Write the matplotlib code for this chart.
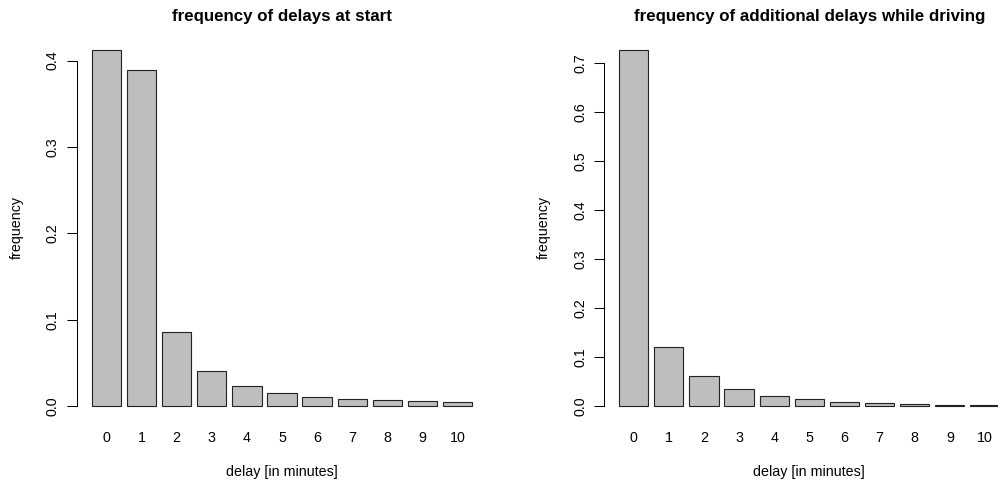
import numpy as np
import matplotlib.pyplot as plt

plt.rcParams['font.family'] = ['Liberation Sans', 'DejaVu Sans']

delays = [str(i) for i in range(11)]
freq_start = [0.4124, 0.389, 0.0853, 0.0405, 0.0235, 0.015, 0.0108, 0.0085, 0.0066, 0.0054, 0.0043]
freq_driving = [0.7273, 0.1205, 0.062, 0.0341, 0.0204, 0.0136, 0.0088, 0.0055, 0.004, 0.0027, 0.002]

titles = ["frequency of delays at start", "frequency of additional delays while driving"]
yticks_start = [0.0, 0.1, 0.2, 0.3, 0.4]
yticks_driving = [0.0, 0.1, 0.2, 0.3, 0.4, 0.5, 0.6, 0.7]

W, H = 998, 482
fig = plt.figure(figsize=(W / 100, H / 100), dpi=100)


def barplot(left_px, values, yticks, title):
    # mimic R's barplot: width 1, space 0.2, 4% axis expansion
    ax = fig.add_axes([left_px / W, (H - 420.2) / H, 411 / W, 384.5 / H])
    n = len(values)
    centers = 0.7 + 1.2 * np.arange(n)
    ax.bar(centers, values, width=1.0, color='#bebebe', edgecolor='#222222', linewidth=0.8)
    ymax = max(values)
    ax.set_ylim(-0.04 * ymax, 1.04 * ymax)
    xl, xr = 0.2, 1.2 * n
    ax.set_xlim(xl - 0.04 * (xr - xl), xr + 0.04 * (xr - xl))

    for s in ['top', 'right', 'bottom']:
        ax.spines[s].set_visible(False)
    ax.spines['left'].set_bounds(yticks[0], yticks[-1])
    ax.spines['left'].set_linewidth(0.75)

    ax.set_yticks(yticks)
    ax.set_yticklabels(['%.1f' % t for t in yticks])
    ax.tick_params(axis='y', length=7.2, width=0.75, labelrotation=90, pad=9.8, labelsize=10.3)
    plt.setp(ax.get_yticklabels(), ha='center', va='center')

    ax.set_xticks(centers)
    ax.set_xticklabels(delays)
    ax.tick_params(axis='x', length=0, pad=13, labelsize=10.3)
    plt.setp(ax.get_xticklabels(), va='center')

    ax.set_xlabel('delay [in minutes]', fontsize=10.3, va='center')
    ax.xaxis.set_label_coords(0.5, -51.5 / 384.5)
    ax.set_ylabel('frequency', fontsize=10.3, va='center')
    ax.yaxis.set_label_coords(-60 / 411, 0.5)
    ax.set_title(title, fontsize=12.2, fontweight='bold', pad=10.8)
    return ax


barplot(76.5, freq_start, yticks_start, titles[0])
barplot(603.8, freq_driving, yticks_driving, titles[1])

fig.savefig('out.png', dpi=100)
